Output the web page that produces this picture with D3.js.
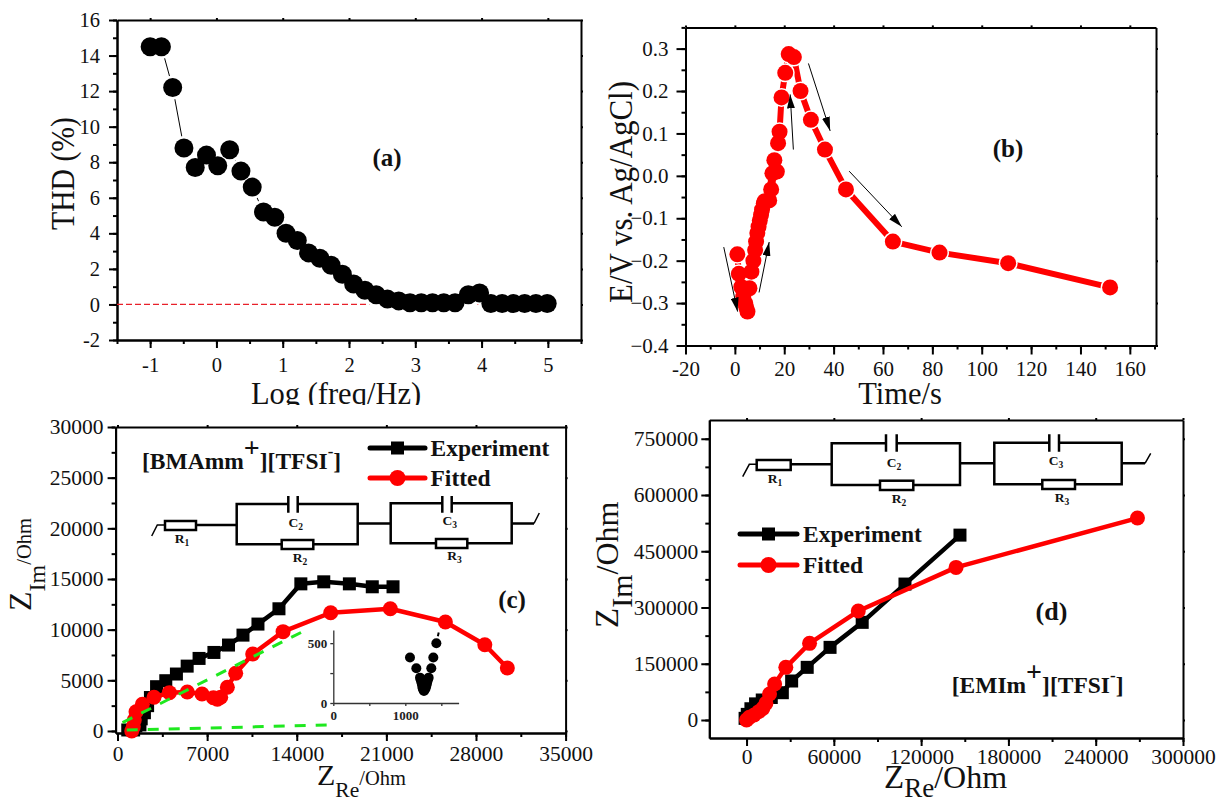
<!DOCTYPE html>
<html>
<head>
<meta charset="utf-8">
<title>Impedance panels</title>
<script src="https://cdnjs.cloudflare.com/ajax/libs/d3/7.8.5/d3.min.js"></script>
<style>
  body { margin: 0; background: #fff; }
  svg { display: block; font-family: "Liberation Serif", serif; }
</style>
</head>
<body>
<svg id="chart" width="1221" height="803"></svg>
<script>
// (a) THD against log frequency
var thdFreq = [-1, -0.83, -0.66, -0.49, -0.32, -0.15, 0.02, 0.2, 0.37, 0.54, 0.71, 0.88, 1.05, 1.22, 1.39, 1.56, 1.73, 1.9,
  2.07, 2.24, 2.41, 2.58, 2.75, 2.92, 3.09, 3.26, 3.43, 3.6, 3.8, 3.97, 4.14, 4.31, 4.48, 4.65, 4.82, 4.99];
var thdValues = [14.5, 14.5, 12.2, 8.8, 7.7, 8.4, 7.8, 8.7, 7.5, 6.6, 5.2, 4.9, 4.0, 3.6, 2.9, 2.6, 2.2, 1.7,
  1.15, 0.8, 0.55, 0.3, 0.2, 0.1, 0.1, 0.1, 0.1, 0.1, 0.55, 0.65, 0.05, 0.05, 0.05, 0.05, 0.05, 0.05];
var thdZeroLine = [-1.5, 5];

// (b) potential against time
var potTime = [1, 1.6, 2.6, 3.4, 4.2, 4.6, 5.1, 5.9, 6.7, 7.5, 8.2, 8.6, 9.1, 9.6, 10.1, 10.6, 11, 11.7, 12, 13.9, 14.7, 15.2, 17, 16,
  17.5, 18.1, 18.9, 20.4, 21.8, 23.9, 26.6, 30.8, 36.5, 45, 64, 82.9, 110.7, 152];
var potValues = [-0.185, -0.231, -0.262, -0.285, -0.3, -0.31, -0.32, -0.265, -0.226, -0.2, -0.175, -0.155, -0.135, -0.12, -0.105, -0.092, -0.08, -0.065, -0.06, -0.058, -0.032, 0.006, 0.01, 0.037,
  0.077, 0.104, 0.185, 0.243, 0.287, 0.28, 0.2, 0.132, 0.062, -0.032, -0.155, -0.181, -0.206, -0.263];
// arrows: t0, E0, t1, E1
var potArrows = [
  [-4.5, -0.168, 1.1, -0.32],
  [9.8, -0.275, 13.9, -0.156],
  [23.7, 0.062, 22.4, 0.192],
  [29.8, 0.265, 38.6, 0.106],
  [46.3, 0.011, 67.6, -0.12]
];

// (c) BMAmm Nyquist
var bmaExpRe = [800, 1259, 1431, 1750, 1850, 2100, 2350, 2570, 3050, 3770, 4600, 5440, 6370, 7530, 8670, 9800, 10970, 12610, 14320, 16110, 18110, 19900, 21520];
var bmaExpIm = [100, 100, 500, 600, 1200, 1800, 2500, 3300, 4370, 4960, 5620, 6400, 7160, 7750, 8480, 9460, 10550, 12060, 14520, 14720, 14520, 14230, 14230];
var bmaFitRe = [1110, 1235, 1310, 1445, 1940, 2850, 4050, 5450, 6600, 7490, 7800, 8060, 8580, 9230, 10560, 12930, 16650, 21310, 25610, 28690, 30450];
var bmaFitIm = [0, 420, 1090, 1900, 2630, 3330, 3780, 3850, 3650, 3290, 3130, 3330, 4310, 5700, 7600, 9800, 11670, 12060, 10750, 8510, 6210];
var bmaGreenHighRe = [390, 14880];
var bmaGreenHighIm = [820, 10070];
var bmaGreenLowRe = [720, 16600];
var bmaGreenLowIm = [100, 590];

// (c) inset, the low frequency end
var insetRe = [1065, 1153, 1204, 1215, 1227, 1235, 1241, 1250, 1259, 1270, 1282, 1292, 1301, 1312, 1324, 1361, 1389, 1431];
var insetIm = [380, 290, 212, 190, 165, 145, 123, 110, 100, 110, 123, 145, 165, 190, 212, 290, 380, 500];
var insetTailRe = [1431, 1472];
var insetTailIm = [500, 612];

// (d) EMIm Nyquist
var emiExpRe = [-1000, 500, 3000, 6200, 10800, 17000, 24600, 31000, 41700, 57400, 79500, 108900, 146700];
var emiExpIm = [4400, 15000, 30000, 43000, 53300, 60000, 72800, 104000, 140400, 193700, 260400, 362500, 493000];
var emiFitRe = [0, 1900, 5200, 8400, 11200, 13300, 15800, 19300, 27000, 43300, 76800, 144000, 268700];
var emiFitIm = [0, 7100, 13300, 22200, 31100, 44400, 69300, 96000, 140400, 204400, 290600, 407000, 538500];

var RED = "#ff0000";
var svg = d3.select("#chart");

svg.append("defs").append("marker")
  .attr("id", "arrowhead")
  .attr("markerUnits", "userSpaceOnUse")
  .attr("viewBox", "0 0 14 8")
  .attr("markerWidth", 14).attr("markerHeight", 8)
  .attr("refX", 14).attr("refY", 4)
  .attr("orient", "auto")
  .append("path").attr("d", "M0,0L14,4L0,8Z").attr("fill", "#000");

function zip(a, b) {
  return a.map(function (v, i) { return [v, b[i]]; });
}

// box with major and minor ticks, returns the two scales
function frame(p) {
  var x = d3.scaleLinear().domain(p.xDomain).range([p.left, p.right]);
  var y = d3.scaleLinear().domain(p.yDomain).range([p.bottom, p.top]);

  var g = svg.append("g");
  function axis(a, tr, len, pad, vals, labels) {
    var sel = g.append("g").attr("transform", tr).call(
      a.tickValues(vals).tickSize(len).tickPadding(pad)
        .tickSizeOuter(0)
        .tickFormat(labels ? function (d) { return labels(d); } : "")
    );
    sel.select(".domain").attr("stroke-width", 2);
    sel.selectAll("line").attr("stroke-width", 2);
    sel.selectAll("text").attr("font-size", p.tickFont || 20).attr("font-family", "Liberation Serif").attr("fill", "#111");
    return sel;
  }
  axis(d3.axisBottom(x), "translate(0," + p.bottom + ")", 4, 0, p.xMinor);
  axis(d3.axisLeft(y), "translate(" + p.left + ",0)", 4, 0, p.yMinor);
  axis(d3.axisBottom(x), "translate(0," + p.bottom + ")", p.tickLen, p.xPad, p.xTicks, p.xFormat || String);
  axis(d3.axisLeft(y), "translate(" + p.left + ",0)", p.tickLen, p.yPad, p.yTicks, p.yFormat || String);
  // opposite sides only carry little stubs
  axis(d3.axisTop(x), "translate(0," + p.top + ")", 2, 0, p.xTicks);
  axis(d3.axisRight(y), "translate(" + p.right + ",0)", 2, 0, p.yTicks);
  return { x: x, y: y };
}

function drawLine(s, pts, color, width, dash) {
  var line = d3.line().x(function (d) { return s.x(d[0]); }).y(function (d) { return s.y(d[1]); });
  return svg.append("path").datum(pts)
    .attr("d", line).attr("fill", "none")
    .attr("stroke", color).attr("stroke-width", width)
    .attr("stroke-dasharray", dash || null)
    .attr("stroke-linejoin", "round");
}

function drawCircles(s, pts, color, r) {
  svg.append("g").selectAll("circle").data(pts).enter().append("circle")
    .attr("cx", function (d) { return s.x(d[0]); })
    .attr("cy", function (d) { return s.y(d[1]); })
    .attr("r", r).attr("fill", color);
}

function drawSquares(s, pts, color, size) {
  svg.append("g").selectAll("rect").data(pts).enter().append("rect")
    .attr("x", function (d) { return s.x(d[0]) - size / 2; })
    .attr("y", function (d) { return s.y(d[1]) - size / 2; })
    .attr("width", size).attr("height", size).attr("fill", color);
}

function label(x, y, str, size, bold, anchor) {
  return svg.append("text").attr("x", x).attr("y", y).text(str)
    .attr("font-size", size)
    .attr("font-weight", bold ? "bold" : null)
    .attr("text-anchor", anchor || "middle")
    .attr("fill", "#111");
}

// text made of runs, each run: [text, fontsize, dy]
function runs(x, y, parts, bold, rotate) {
  var t = svg.append("text").attr("fill", "#111")
    .attr("font-weight", bold ? "bold" : null)
    .attr("transform", "translate(" + x + "," + y + ")" + (rotate ? " rotate(-90)" : ""));
  parts.forEach(function (p) {
    t.append("tspan").attr("font-size", p[1]).attr("dy", p[2] || 0).text(p[0]);
  });
  return t;
}

function legend(x0, x1, y, textX, str, color, isSquare) {
  svg.append("line").attr("x1", x0).attr("x2", x1).attr("y1", y).attr("y2", y)
    .attr("stroke", color).attr("stroke-width", 5).attr("stroke-linecap", "round");
  var cx = (x0 + x1) / 2;
  if (isSquare) {
    svg.append("rect").attr("x", cx - 6.5).attr("y", y - 6.5).attr("width", 13).attr("height", 13).attr("fill", color);
  } else {
    svg.append("circle").attr("cx", cx).attr("cy", y).attr("r", 8).attr("fill", color);
  }
  label(textX, y + 8, str, 23.5, true, "start");
}

function circuit(c) {
  var g = svg.append("g").attr("fill", "none").attr("stroke", "#000").attr("stroke-width", 2.5);
  function wire(d) { g.append("path").attr("d", d); }
  function resistor(b) {
    g.append("rect").attr("x", b[0]).attr("y", b[1]).attr("width", b[2] - b[0]).attr("height", b[3] - b[1])
      .attr("fill", "#fff");
  }
  function cell(b, plates) {
    wire("M" + plates[0] + "," + b[1] + "H" + b[0] + "V" + b[3] + "H" + b[2] + "V" + b[1] + "H" + plates[1]);
    wire("M" + plates[0] + "," + c.capTop + "V" + c.capBottom + "M" + plates[1] + "," + c.capTop + "V" + c.capBottom);
  }
  cell(c.box1, c.plates1);
  cell(c.box2, c.plates2);
  wire(c.wires);
  g.append("path").attr("d", c.leads).attr("stroke-width", 1.5);
  c.resistors.forEach(resistor);
  c.labels.forEach(function (l) {
    runs(l[1], l[2], [[l[0][0], 13.5], [l[0][1], 9.5, 3]], true)
      .attr("text-anchor", "middle");
  });
}

// ---------- (a)
var sa = frame({
  left: 117, right: 581, top: 20, bottom: 340,
  xDomain: [-1.5, 5.5], yDomain: [-2, 16],
  xTicks: d3.range(-1, 6), xMinor: d3.range(-1.5, 5.6, 0.5),
  yTicks: d3.range(-2, 17, 2), yMinor: d3.range(-2, 17, 1),
  tickLen: 8, xPad: 9, yPad: 9, tickFont: 20.5
});
drawLine(sa, zip(thdZeroLine, [0, 0]), "#e8202a", 1.2, "6,3");
var thdPts = zip(thdFreq, thdValues);
drawLine(sa, thdPts, "#000", 1);
drawCircles(sa, thdPts, "#fff", 12);
drawCircles(sa, thdPts, "#000", 9.5);
// glyphs in the source are taller than they are long on this rotated title
runs(74, 230, [["THD (%)", 34]], false, true)
  .attr("textLength", 113).attr("lengthAdjust", "spacingAndGlyphs");
label(336, 404, "Log (freq/Hz)", 30.5);
// the label is cropped at the bottom in the source
svg.append("rect").attr("x", 240).attr("y", 405).attr("width", 200).attr("height", 8).attr("fill", "#fff");
label(387, 166, "(a)", 25, true);

// ---------- (b)
var sb = frame({
  left: 685.5, right: 1156, top: 27.4, bottom: 345.5,
  xDomain: [-20, 170.6], yDomain: [-0.4, 0.35],
  xTicks: d3.range(-20, 161, 20), xMinor: d3.range(-20, 171, 10),
  yTicks: d3.range(-4, 4).map(function (d) { return d / 10; }),
  yMinor: d3.range(-8, 8).map(function (d) { return d / 20; }),
  yFormat: d3.format(".1f"),
  tickLen: 9, xPad: 7, yPad: 8, tickFont: 21
});
var potPts = zip(potTime, potValues);
drawLine(sb, potPts, RED, 6);
drawCircles(sb, potPts, "#fff", 9.5);
drawCircles(sb, potPts, RED, 8);
// redraw the packed rising part so it reads as one band
drawLine(sb, potPts.slice(9, 22), RED, 8);
potArrows.forEach(function (a) {
  svg.append("line")
    .attr("x1", sb.x(a[0])).attr("y1", sb.y(a[1]))
    .attr("x2", sb.x(a[2])).attr("y2", sb.y(a[3]))
    .attr("stroke", "#000").attr("stroke-width", 1)
    .attr("marker-end", "url(#arrowhead)");
});
runs(632, 303, [["E/V vs. Ag/AgCl)", 34]], false, true)
  .attr("textLength", 222).attr("lengthAdjust", "spacingAndGlyphs");
label(900, 404, "Time/s", 30.5);
svg.append("rect").attr("x", 850).attr("y", 406).attr("width", 100).attr("height", 6).attr("fill", "#fff");
label(1008, 157, "(b)", 25, true);

// ---------- (c)
var sc = frame({
  left: 115.6, right: 565.6, top: 427, bottom: 733,
  xDomain: [-150, 35000], yDomain: [-200, 30000],
  xTicks: d3.range(0, 35001, 7000), xMinor: d3.range(0, 35001, 3500),
  yTicks: d3.range(0, 30001, 5000), yMinor: d3.range(0, 30001, 2500),
  tickLen: 8, xPad: 5, yPad: 4, tickFont: 21.5
});
var bmaExp = zip(bmaExpRe, bmaExpIm), bmaFit = zip(bmaFitRe, bmaFitIm);
drawLine(sc, bmaExp, "#000", 4.5);
drawSquares(sc, bmaExp, "#000", 13);
drawLine(sc, bmaFit, RED, 4.5);
drawCircles(sc, bmaFit, RED, 7.5);
drawLine(sc, zip(bmaGreenHighRe, bmaGreenHighIm), "#1fe81f", 3, "11,10");
drawLine(sc, zip(bmaGreenLowRe, bmaGreenLowIm), "#1fe81f", 3, "11,10");
runs(31, 611, [["Z", 32], ["Im", 24, 14], ["/Ohm", 20.5, -14]], false, true);
runs(317, 785, [["Z", 30], ["Re", 21.5, 12], ["/Ohm", 20.5, -12]]);
runs(142, 469, [["[BMAmm", 23.5], ["+", 28, -12], ["][TFSI", 23.5, 12], ["-", 17, -12], ["]", 23.5, 12]], true);
legend(370, 425, 448, 430.5, "Experiment", "#000", true);
legend(370, 425, 478, 430.5, "Fitted", RED, false);
label(512, 608, "(c)", 25, true);
circuit({
  box1: [236.7, 504, 357.7, 544.3], plates1: [288.3, 297.7],
  box2: [390.7, 503.3, 511.7, 543.3], plates2: [442.3, 451.7],
  capTop: 496, capBottom: 512.7,
  wires: "M165,525H236.7M357.7,523.5H390.7M511.7,523.5H534",
  leads: "M151.7,536L157.3,525H165M534,523.5L539.3,513",
  resistors: [[165, 521, 196, 530], [281.7, 540, 313.3, 549], [436, 539, 467.3, 548]],
  labels: [[["R", "1"], 182, 543], [["C", "2"], 295.7, 526.5], [["R", "2"], 300, 562], [["C", "3"], 449.7, 525], [["R", "3"], 454.6, 560]]
});

// inset
var si = {
  x: d3.scaleLinear().domain([0, 1740]).range([333.3, 458.6]),
  y: d3.scaleLinear().domain([0, 610]).range([703, 630])
};
var insetX = svg.append("g").attr("transform", "translate(0,703)")
  .call(d3.axisBottom(si.x).tickValues([0, 500, 1000, 1500]).tickSize(3).tickPadding(5).tickSizeOuter(0)
    .tickFormat(function (d) { return d % 1000 === 0 ? d : ""; }));
var insetY = svg.append("g").attr("transform", "translate(333.3,0)")
  .call(d3.axisLeft(si.y).tickValues([0, 250, 500]).tickSize(3).tickPadding(3).tickSizeOuter(0)
    .tickFormat(function (d) { return d % 500 === 0 ? d : ""; }));
[insetX, insetY].forEach(function (a) {
  a.selectAll("text").attr("font-size", 13).attr("font-weight", "bold").attr("font-family", "Liberation Serif").attr("fill", "#222");
  a.selectAll(".domain,line").attr("stroke", "#333").attr("stroke-width", 1.3);
});
drawLine(si, zip(insetTailRe, insetTailIm), "#000", 2, "4,3");
drawCircles(si, zip(insetRe, insetIm), "#000", 5);

// ---------- (d)
var sd = frame({
  left: 709.3, right: 1183, top: 420, bottom: 738,
  xDomain: [-25600, 300000], yDomain: [-48000, 800000],
  xTicks: d3.range(0, 300001, 60000), xMinor: d3.range(0, 300001, 30000),
  yTicks: d3.range(0, 750001, 150000), yMinor: d3.range(0, 750001, 75000),
  tickLen: 8, xPad: 3, yPad: 3, tickFont: 21.5
});
var emiExp = zip(emiExpRe, emiExpIm), emiFit = zip(emiFitRe, emiFitIm);
drawLine(sd, emiExp, "#000", 4.5);
drawSquares(sd, emiExp, "#000", 13);
drawLine(sd, emiFit, RED, 4.5);
drawCircles(sd, emiFit, RED, 7.5);
runs(618, 628, [["Z", 33], ["Im", 30, 14], ["/Ohm", 32, -14]], false, true);
runs(884, 788, [["Z", 33], ["Re", 27, 9], ["/Ohm", 32, -9]]);
runs(951.7, 692.7, [["[EMIm", 23.5], ["+", 28, -12], ["][TFSI", 23.5, 12], ["-", 17, -12], ["]", 23.5, 12]], true);
legend(740, 797, 534, 803, "Experiment", "#000", true);
legend(740, 797, 565, 803, "Fitted", RED, false);
label(1051.5, 620, "(d)", 26, true);
circuit({
  box1: [831.7, 443.3, 960, 485], plates1: [886, 896.7],
  box2: [994.3, 442.7, 1121.7, 484.3], plates2: [1049.3, 1059],
  capTop: 434.3, capBottom: 451.7,
  wires: "M756.7,464.3H831.7M960,463.3H994.3M1121.7,463.3H1145",
  leads: "M742.7,476.7L749.3,464.3H756.7M1145,463.3L1150.7,453.3",
  resistors: [[756.7, 460, 790.7, 470], [880, 480.7, 913.3, 490], [1042.3, 480, 1075, 489]],
  labels: [[["R", "1"], 775, 483], [["C", "2"], 894, 466.5], [["R", "2"], 899, 503], [["C", "3"], 1056, 465], [["R", "3"], 1062, 501.7]]
});
</script>
</body>
</html>
